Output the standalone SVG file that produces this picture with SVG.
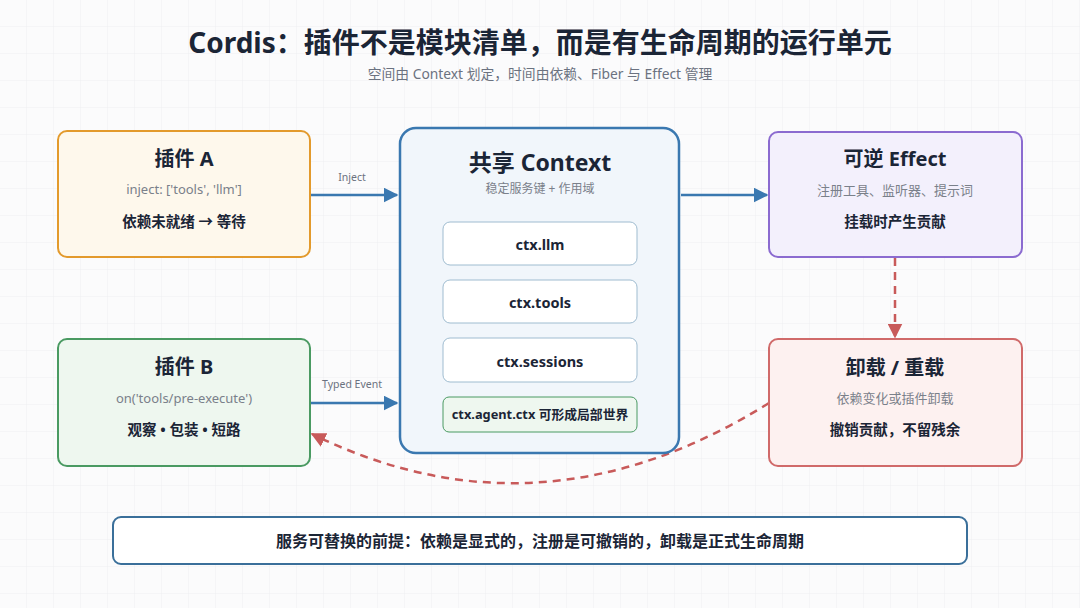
<svg xmlns="http://www.w3.org/2000/svg" width="1080" height="608" viewBox="0 0 1080 608">
  <defs>
    <pattern id="grid" width="27" height="27" patternUnits="userSpaceOnUse">
      <path d="M27 0V27M0 27H27" fill="none" stroke="#eeeff2" stroke-width="1"/>
    </pattern>
    <marker id="ab" viewBox="0 0 10 10" refX="9" refY="5" markerWidth="6" markerHeight="6" markerUnits="strokeWidth" orient="auto">
      <path d="M0 0L10 5L0 10z" fill="#3a78b0"/>
    </marker>
    <marker id="ar" viewBox="0 0 10 10" refX="9" refY="5" markerWidth="6" markerHeight="6" markerUnits="strokeWidth" orient="auto">
      <path d="M0 0L10 5L0 10z" fill="#c85a5a"/>
    </marker>
  </defs>
  <style>
    text { font-family: "Noto Sans", "Noto Sans CJK SC", sans-serif; text-anchor: middle; dominant-baseline: central; }
    .title { font-size: 28px; font-weight: 700; fill: #1b2536; }
    .subtitle { font-size: 13.8px; fill: #6b7280; }
    .nt { font-size: 20px; font-weight: 700; fill: #1b2536; }
    .ns { font-size: 13px; fill: #7a808a; }
    .nb { font-size: 14.5px; font-weight: 700; fill: #1b2536; }
    .lbl { font-size: 10.5px; fill: #6b7280; }
    .svc { font-size: 14.5px; font-weight: 700; fill: #1b2536; }
    .flow { fill: none; stroke: #3a78b0; stroke-width: 2.5; }
    .dash { fill: none; stroke: #c85a5a; stroke-width: 2.5; stroke-dasharray: 8 6; }
    .inner { fill: #ffffff; stroke: #9fbcd0; stroke-width: 1; }
  </style>
  <rect width="1080" height="608" fill="#fbfbfc"/>
  <rect width="1080" height="608" fill="url(#grid)"/>

  <text class="title" x="540" y="42">Cordis：插件不是模块清单，而是有生命周期的运行单元</text>
  <text class="subtitle" x="540" y="73">空间由 Context 划定，时间由依赖、Fiber 与 Effect 管理</text>

  <g id="connectors">
    <path class="flow" d="M310 195H397" marker-end="url(#ab)"/>
    <text class="lbl" x="352" y="177">Inject</text>
    <path class="flow" d="M310 403H397" marker-end="url(#ab)"/>
    <text class="lbl" x="352" y="384">Typed Event</text>
    <path class="flow" d="M681 195H767" marker-end="url(#ab)"/>
    <path class="dash" d="M895 258V337" marker-end="url(#ar)"/>
    <path class="dash" d="M769 403Q540 546 312 434" marker-end="url(#ar)"/>
  </g>

  <g id="pluginA">
    <rect x="58" y="131" width="252" height="126" rx="9" fill="#fef8ec" stroke="#e39a2c" stroke-width="2"/>
    <text class="nt" x="184" y="158">插件 A</text>
    <text class="ns" x="184" y="189">inject: ['tools', 'llm']</text>
    <text class="nb" x="184" y="221">依赖未就绪 → 等待</text>
  </g>

  <g id="pluginB">
    <rect x="58" y="339" width="252" height="127" rx="9" fill="#eef7ef" stroke="#4a9a62" stroke-width="2"/>
    <text class="nt" x="184" y="366">插件 B</text>
    <text class="ns" x="184" y="398">on('tools/pre-execute')</text>
    <text class="nb" x="184" y="429">观察 • 包装 • 短路</text>
  </g>

  <g id="context">
    <rect x="400" y="128" width="279" height="325" rx="16" fill="#f1f6fb" stroke="#3a78b0" stroke-width="2.5"/>
    <text x="540" y="162" style="font-size:23px;font-weight:700;fill:#1b2536">共享 Context</text>
    <text class="ns" x="540" y="188" style="font-size:12px">稳定服务键 + 作用域</text>
    <rect class="inner" x="443" y="222" width="194" height="43" rx="7"/>
    <text class="svc" x="540" y="244">ctx.llm</text>
    <rect class="inner" x="443" y="280" width="194" height="43" rx="7"/>
    <text class="svc" x="540" y="302">ctx.tools</text>
    <rect class="inner" x="443" y="338" width="194" height="44" rx="7"/>
    <text class="svc" x="540" y="361">ctx.sessions</text>
    <rect x="443" y="397" width="194" height="35" rx="6" fill="#eef7ef" stroke="#4a9a62" stroke-width="1"/>
    <text x="540" y="414" style="font-size:12.8px;font-weight:700;fill:#1b2536">ctx.agent.ctx 可形成局部世界</text>
  </g>

  <g id="effect">
    <rect x="769" y="132" width="253" height="125" rx="9" fill="#f3f0fc" stroke="#8b6bd0" stroke-width="2"/>
    <text class="nt" x="895" y="158">可逆 Effect</text>
    <text class="ns" x="895" y="190">注册工具、监听器、提示词</text>
    <text class="nb" x="895" y="221">挂载时产生贡献</text>
  </g>

  <g id="unload">
    <rect x="769" y="339" width="253" height="127" rx="9" fill="#fdf1f0" stroke="#d06a6a" stroke-width="2"/>
    <text class="nt" x="895" y="367">卸载 / 重载</text>
    <text class="ns" x="895" y="398">依赖变化或插件卸载</text>
    <text class="nb" x="895" y="429">撤销贡献，不留残余</text>
  </g>

  <g id="summary">
    <rect x="113" y="517" width="854" height="47" rx="8" fill="#ffffff" stroke="#3a6f9a" stroke-width="2"/>
    <text x="540" y="541" style="font-size:16px;font-weight:700;fill:#1b2536">服务可替换的前提：依赖是显式的，注册是可撤销的，卸载是正式生命周期</text>
  </g>
</svg>
